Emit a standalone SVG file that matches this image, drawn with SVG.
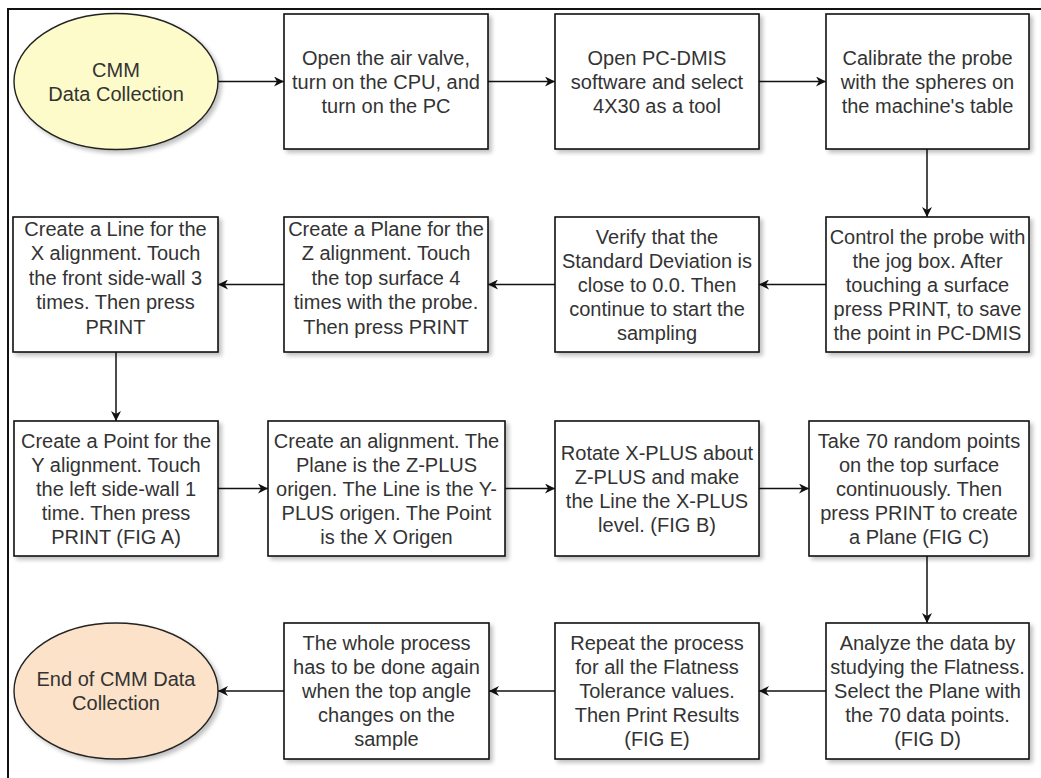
<svg xmlns="http://www.w3.org/2000/svg" width="1041" height="778" viewBox="0 0 1041 778">
  <style>
    .box { fill: #ffffff; stroke: #111111; stroke-width: 1.6; filter: url(#shadow); }
    .start { fill: #fdfbc9; stroke: #222222; stroke-width: 1.4; filter: url(#shadow); }
    .end { fill: #fbe2c8; stroke: #222222; stroke-width: 1.4; filter: url(#shadow); }
    text { font-family: "Liberation Sans", Arial, sans-serif; font-size: 20px; fill: #333333; text-anchor: middle; }
    .edge { fill: none; stroke: #111111; stroke-width: 1.5; marker-end: url(#arrow); }
    .frame { stroke: #111111; stroke-width: 2; fill: none; }
  </style>
  <defs>
    <filter id="shadow" x="-10%" y="-10%" width="125%" height="130%">
      <feGaussianBlur in="SourceAlpha" stdDeviation="2"/>
      <feOffset dx="3" dy="3" result="off"/>
      <feComponentTransfer><feFuncA type="linear" slope="0.25"/></feComponentTransfer>
      <feMerge><feMergeNode/><feMergeNode in="SourceGraphic"/></feMerge>
    </filter>
    <marker id="arrow" markerUnits="userSpaceOnUse" markerWidth="11" markerHeight="10" refX="10" refY="5" orient="auto">
      <path d="M0,0 L10,5 L0,10 L3,5 Z" fill="#111111"/>
    </marker>
  </defs>

  <rect width="1041" height="778" fill="#ffffff"/>
  <!-- outer frame (top and left edges) -->
  <path class="frame" d="M8,778 L8,9 L1041,9"/>

  <!-- connectors -->
  <g id="connectors">
    <line class="edge" x1="218" y1="81.5" x2="284" y2="81.5"/>
    <line class="edge" x1="488" y1="81.5" x2="555" y2="81.5"/>
    <line class="edge" x1="759" y1="81.5" x2="826" y2="81.5"/>
    <line class="edge" x1="927" y1="149" x2="927" y2="217"/>
    <line class="edge" x1="826" y1="284.5" x2="759" y2="284.5"/>
    <line class="edge" x1="555" y1="284.5" x2="488" y2="284.5"/>
    <line class="edge" x1="284" y1="284.5" x2="218" y2="284.5"/>
    <line class="edge" x1="116" y1="352" x2="116" y2="421"/>
    <line class="edge" x1="218" y1="488.5" x2="268" y2="488.5"/>
    <line class="edge" x1="505" y1="488.5" x2="555" y2="488.5"/>
    <line class="edge" x1="759" y1="488.5" x2="809" y2="488.5"/>
    <line class="edge" x1="927" y1="556" x2="927" y2="623"/>
    <line class="edge" x1="826" y1="691" x2="759" y2="691"/>
    <line class="edge" x1="555" y1="691" x2="489" y2="691"/>
    <line class="edge" x1="284" y1="691" x2="218" y2="691"/>
  </g>

  <!-- row 1 -->
  <g id="start">
    <ellipse class="start" cx="116" cy="81.5" rx="102" ry="68"/>
    <text x="116" y="76.5">CMM</text>
    <text x="116" y="100.5">Data Collection</text>
  </g>
  <g id="air-valve">
    <rect class="box" x="284" y="14" width="204" height="135"/>
    <text x="386" y="64.5">Open the air valve,</text>
    <text x="386" y="88.5">turn on the CPU, and</text>
    <text x="386" y="112.5">turn on the PC</text>
  </g>
  <g id="open-pcdmis">
    <rect class="box" x="555" y="14" width="204" height="135"/>
    <text x="657" y="64.5">Open PC-DMIS</text>
    <text x="657" y="88.5">software and select</text>
    <text x="657" y="112.5">4X30 as a tool</text>
  </g>
  <g id="calibrate">
    <rect class="box" x="826" y="14" width="203" height="135"/>
    <text x="927.5" y="64.5">Calibrate the probe</text>
    <text x="927.5" y="88.5">with the spheres on</text>
    <text x="927.5" y="112.5">the machine's table</text>
  </g>

  <!-- row 2 -->
  <g id="jog-box">
    <rect class="box" x="826" y="217" width="203" height="135"/>
    <text x="927.5" y="243.5">Control the probe with</text>
    <text x="927.5" y="267.5">the jog box. After</text>
    <text x="927.5" y="291.5">touching a surface</text>
    <text x="927.5" y="315.5">press PRINT, to save</text>
    <text x="927.5" y="339.5">the point in PC-DMIS</text>
  </g>
  <g id="verify">
    <rect class="box" x="555" y="217" width="204" height="135"/>
    <text x="657" y="243.5">Verify that the</text>
    <text x="657" y="267.5">Standard Deviation is</text>
    <text x="657" y="291.5">close to 0.0. Then</text>
    <text x="657" y="315.5">continue to start the</text>
    <text x="657" y="339.5">sampling</text>
  </g>
  <g id="plane-z">
    <rect class="box" x="284" y="217" width="204" height="135"/>
    <text x="386" y="235.5">Create a Plane for the</text>
    <text x="386" y="260">Z alignment. Touch</text>
    <text x="386" y="284.5">the top surface 4</text>
    <text x="386" y="309">times with the probe.</text>
    <text x="386" y="333.5">Then press PRINT</text>
  </g>
  <g id="line-x">
    <rect class="box" x="13" y="217" width="205" height="135"/>
    <text x="115.5" y="235.5">Create a Line for the</text>
    <text x="115.5" y="260">X alignment. Touch</text>
    <text x="115.5" y="284.5">the front side-wall 3</text>
    <text x="115.5" y="309">times. Then press</text>
    <text x="115.5" y="333.5">PRINT</text>
  </g>

  <!-- row 3 -->
  <g id="point-y">
    <rect class="box" x="14" y="421" width="204" height="135"/>
    <text x="116" y="447.5">Create a Point for the</text>
    <text x="116" y="471.5">Y alignment. Touch</text>
    <text x="116" y="495.5">the left side-wall 1</text>
    <text x="116" y="519.5">time. Then press</text>
    <text x="116" y="543.5">PRINT (FIG A)</text>
  </g>
  <g id="alignment">
    <rect class="box" x="268" y="421" width="237" height="135"/>
    <text x="386.5" y="447.5">Create an alignment. The</text>
    <text x="386.5" y="471.5">Plane is the Z-PLUS</text>
    <text x="386.5" y="495.5">origen. The Line is the Y-</text>
    <text x="386.5" y="519.5">PLUS origen. The Point</text>
    <text x="386.5" y="543.5">is the X Origen</text>
  </g>
  <g id="rotate">
    <rect class="box" x="555" y="421" width="204" height="135"/>
    <text x="657" y="459.5">Rotate X-PLUS about</text>
    <text x="657" y="483.5">Z-PLUS and make</text>
    <text x="657" y="507.5">the Line the X-PLUS</text>
    <text x="657" y="531.5">level. (FIG B)</text>
  </g>
  <g id="random-points">
    <rect class="box" x="809" y="421" width="220" height="135"/>
    <text x="919" y="447.5">Take 70 random points</text>
    <text x="919" y="471.5">on the top surface</text>
    <text x="919" y="495.5">continuously. Then</text>
    <text x="919" y="519.5">press PRINT to create</text>
    <text x="919" y="543.5">a Plane (FIG C)</text>
  </g>

  <!-- row 4 -->
  <g id="analyze">
    <rect class="box" x="826" y="623" width="203" height="136"/>
    <text x="927.5" y="650">Analyze the data by</text>
    <text x="927.5" y="674">studying the Flatness.</text>
    <text x="927.5" y="698">Select the Plane with</text>
    <text x="927.5" y="722">the 70 data points.</text>
    <text x="927.5" y="746">(FIG D)</text>
  </g>
  <g id="repeat">
    <rect class="box" x="555" y="623" width="204" height="136"/>
    <text x="657" y="650">Repeat the process</text>
    <text x="657" y="674">for all the Flatness</text>
    <text x="657" y="698">Tolerance values.</text>
    <text x="657" y="722">Then Print Results</text>
    <text x="657" y="746">(FIG E)</text>
  </g>
  <g id="whole-process">
    <rect class="box" x="284" y="623" width="205" height="136"/>
    <text x="386.5" y="650">The whole process</text>
    <text x="386.5" y="674">has to be done again</text>
    <text x="386.5" y="698">when the top angle</text>
    <text x="386.5" y="722">changes on the</text>
    <text x="386.5" y="746">sample</text>
  </g>
  <g id="end">
    <ellipse class="end" cx="116" cy="691" rx="102" ry="68"/>
    <text x="116" y="686">End of CMM Data</text>
    <text x="116" y="710">Collection</text>
  </g>
</svg>
